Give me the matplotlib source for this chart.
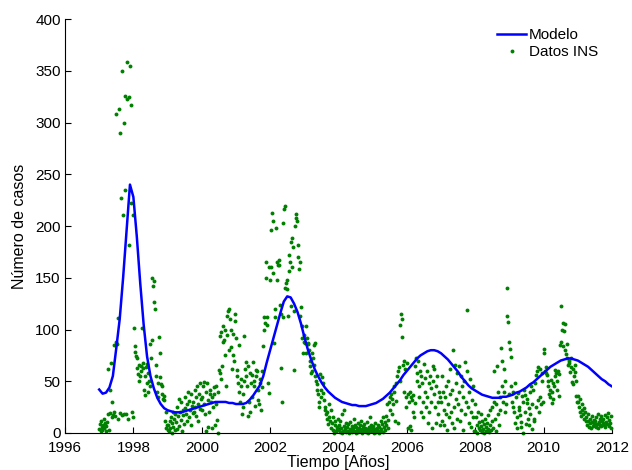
import numpy as np
import matplotlib
matplotlib.use("Agg")
import matplotlib.pyplot as plt

plt.rcParams['font.family'] = ['Liberation Sans', 'DejaVu Sans']

# weekly cases, one list per year (4 quarters of 13 weeks)
cases_1997 = [4, 9, 2, 12, 6, 3, 8, 14, 5, 10, 2, 7, 11,
              62, 18, 3, 19, 42, 68, 15, 30, 17, 20, 85, 16, 88,
              308, 86, 14, 111, 313, 19, 290, 227, 17, 350, 211, 300, 18,
              326, 235, 18, 323, 358, 14, 325, 182, 355, 222, 317, 20, 15]
cases_1998 = [211, 101, 84, 78, 74, 72, 63, 57, 66, 50, 55, 65, 60,
              101, 63, 68, 42, 37, 55, 64, 48, 67, 40, 58, 50, 45,
              86, 72, 90, 150, 142, 147, 127, 120, 55, 66, 40, 48, 35,
              93, 77, 54, 47, 45, 38, 33, 36, 32, 12, 5, 20, 8]
cases_1999 = [3, 8, 2, 12, 5, 15, 0, 10, 20, 6, 14, 3, 18,
              11, 25, 4, 16, 33, 7, 20, 13, 30, 2, 22, 17, 9,
              24, 35, 18, 12, 28, 40, 15, 31, 22, 8, 38, 26, 19,
              30, 20, 42, 25, 16, 35, 45, 28, 12, 38, 23, 48, 33]
cases_2000 = [35, 22, 45, 28, 49, 18, 40, 2, 48, 6, 32, 20, 38,
              42, 30, 5, 35, 25, 44, 38, 8, 45, 28, 13, 40, 0,
              61, 94, 58, 52, 98, 65, 103, 88, 90, 75, 100, 45, 95,
              113, 118, 80, 120, 110, 100, 83, 62, 75, 96, 70, 108, 115]
cases_2001 = [92, 61, 55, 48, 85, 40, 30, 52, 45, 18, 25, 38, 50,
              94, 62, 55, 69, 45, 65, 16, 30, 58, 20, 48, 56, 35,
              69, 50, 45, 26, 61, 55, 60, 32, 42, 28, 48, 52, 22,
              44, 60, 84, 100, 112, 106, 150, 165, 104, 112, 48, 39, 160]
cases_2002 = [148, 160, 196, 213, 205, 155, 87, 112, 120, 198, 165, 148, 162,
              167, 162, 124, 115, 63, 30, 112, 203, 216, 140, 219, 145, 139,
              148, 113, 157, 172, 165, 123, 185, 160, 188, 180, 61, 118, 200,
              212, 208, 205, 170, 182, 158, 113, 165, 122, 103, 92, 77, 88]
cases_2003 = [95, 87, 103, 77, 92, 86, 87, 80, 70, 65, 58, 60, 77,
              72, 66, 85, 87, 55, 50, 47, 42, 38, 30, 25, 57, 35,
              42, 54, 48, 39, 32, 25, 22, 18, 14, 20, 9, 28, 15,
              12, 5, 22, 10, 3, 15, 0, 8, 12, 2, 6, 4, 14]
cases_2004 = [3, 8, 1, 12, 5, 0, 18, 2, 7, 22, 4, 10, 1,
              6, 2, 9, 0, 4, 11, 3, 7, 1, 5, 14, 2, 8,
              0, 6, 3, 10, 1, 5, 8, 2, 12, 4, 0, 7, 3,
              9, 2, 5, 1, 11, 4, 0, 6, 3, 15, 2, 8, 5]
cases_2005 = [2, 7, 0, 4, 10, 1, 5, 3, 8, 0, 6, 2, 12,
              4, 9, 1, 15, 6, 3, 11, 16, 8, 28, 13, 5, 30,
              35, 22, 38, 18, 33, 28, 45, 40, 12, 48, 31, 55, 10,
              60, 64, 50, 104, 115, 110, 93, 66, 70, 40, 62, 35, 25]
cases_2006 = [68, 38, 5, 30, 40, 7, 35, 3, 32, 20, 37, 15, 29,
              65, 72, 50, 58, 70, 45, 35, 60, 20, 55, 48, 30, 15,
              67, 53, 40, 25, 60, 35, 10, 48, 20, 55, 30, 43, 5,
              65, 50, 38, 62, 25, 45, 10, 55, 30, 18, 40, 8, 35]
cases_2007 = [30, 55, 12, 40, 22, 8, 35, 45, 18, 3, 28, 50, 15,
              38, 62, 20, 10, 42, 80, 25, 5, 66, 33, 48, 14, 58,
              28, 65, 40, 12, 55, 22, 45, 3, 35, 50, 18, 69, 30,
              119, 60, 25, 10, 40, 52, 20, 6, 32, 15, 45, 2, 28]
cases_2008 = [2, 15, 8, 0, 20, 5, 11, 3, 18, 7, 1, 12, 4,
              9, 0, 14, 6, 2, 10, 4, 17, 1, 8, 22, 3, 12,
              25, 5, 30, 60, 14, 28, 2, 65, 40, 18, 8, 35, 22,
              82, 70, 45, 30, 62, 40, 20, 50, 28, 140, 113, 107, 38]
cases_2009 = [88, 81, 73, 45, 30, 25, 40, 20, 48, 10, 35, 5, 15,
              39, 25, 22, 17, 11, 6, 36, 30, 0, 42, 37, 20, 9,
              29, 33, 14, 24, 8, 40, 18, 45, 28, 4, 42, 14, 12,
              48, 25, 56, 60, 32, 64, 20, 62, 35, 28, 58, 50, 30]
cases_2010 = [81, 77, 60, 58, 64, 56, 45, 50, 38, 42, 35, 51, 29,
              40, 48, 33, 45, 55, 61, 58, 42, 50, 60, 36, 57, 85,
              88, 123, 100, 106, 84, 99, 80, 105, 76, 86, 72, 66, 70,
              68, 59, 64, 72, 49, 62, 47, 55, 59, 66, 36, 50, 30]
cases_2011 = [36, 30, 25, 33, 20, 16, 28, 22, 18, 24, 14, 20, 12,
              15, 8, 12, 18, 6, 10, 14, 5, 11, 16, 7, 13, 9,
              12, 6, 15, 9, 18, 5, 11, 14, 8, 16, 7, 12, 10,
              14, 8, 17, 6, 11, 15, 9, 19, 7, 13, 10, 16, 5]

# model curve, every 0.1 year from 1997.0 to 2012.0
model_start = 1997.0
model_step = 0.1
model_cases = [42, 38, 39, 44, 55, 82, 110, 150, 195, 240,
               228, 190, 145, 105, 74, 55, 43, 34, 28, 24,
               22, 21, 20, 20, 20, 21, 22, 23, 24, 25,
               26, 27, 28, 29, 30, 30, 30, 30, 29, 29,
               28, 28, 28, 29, 32, 36, 41, 46, 55, 68,
               80, 92, 104, 116, 127, 132, 131, 125, 117, 106,
               93, 81, 71, 62, 55, 49, 44, 40, 37, 34,
               32, 30, 29, 28, 27, 27, 26, 26, 26, 27,
               28, 29, 31, 33, 36, 39, 43, 47, 51, 56,
               60, 64, 68, 72, 75, 77, 79, 80, 80, 79,
               77, 74, 71, 67, 63, 59, 54, 50, 46, 43,
               41, 39, 37, 36, 35, 34, 34, 34, 35, 35,
               36, 37, 39, 40, 42, 44, 47, 49, 52, 55,
               58, 61, 64, 66, 68, 70, 71, 72, 72, 71,
               70, 68, 66, 64, 61, 58, 55, 52, 50, 47,
               45]

xticks = list(range(1996, 2013, 2))
yticks = list(range(0, 401, 50))

def main():
	years = [cases_1997, cases_1998, cases_1999, cases_2000, cases_2001,
	         cases_2002, cases_2003, cases_2004, cases_2005, cases_2006,
	         cases_2007, cases_2008, cases_2009, cases_2010, cases_2011]
	t_data, v_data = [], []
	for k, vals in enumerate(years):
		n = len(vals)
		t_data.extend(1997 + k + np.arange(n) / float(n))
		v_data.extend(vals)

	t_model = model_start + model_step * np.arange(len(model_cases))

	fig = plt.figure(figsize=(6.32, 4.70), dpi=100)
	ax = fig.add_axes([65/632., 1 - 433/470., (612-65)/632., (433-19)/470.])

	ax.plot(t_model, model_cases, color='#0000ff', lw=1.8, label='Modelo', zorder=3)
	ax.plot(t_data, v_data, 'o', color='#008000', markersize=2.8, markeredgewidth=0,
	        label='Datos INS', clip_on=False, zorder=2)

	ax.set_xlim(1996, 2012)
	ax.set_ylim(0, 400)
	ax.set_xticks(xticks)
	ax.set_yticks(yticks)
	ax.spines['top'].set_visible(False)
	ax.spines['right'].set_visible(False)
	for s in ['left', 'bottom']:
		ax.spines[s].set_linewidth(0.8)
	ax.tick_params(direction='in', length=4, width=0.8, labelsize=11, pad=3)
	ax.tick_params(axis='x', pad=6)

	ax.set_xlabel('Tiempo [Años]', fontsize=11.5, labelpad=0)
	ax.set_ylabel('Número de casos', fontsize=11.5, labelpad=6)

	fig.legend(loc='upper left', bbox_to_anchor=(497/632., 1 - 28/470.),
	           frameon=False, fontsize=11, handlelength=1.9, handletextpad=0.2,
	           labelspacing=0.2, borderpad=0, borderaxespad=0, numpoints=1)

	fig.savefig('out.png', dpi=100)

if __name__ == "__main__":
	main()
